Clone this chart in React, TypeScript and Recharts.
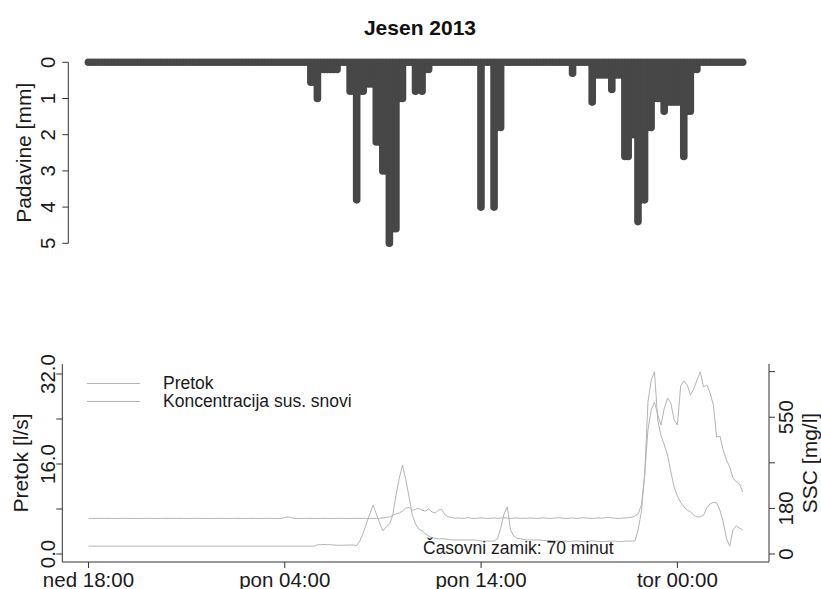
import React from "react";
import { Bar, ComposedChart, Legend, Line, XAxis, YAxis } from "recharts";

const FONT = '"Liberation Sans", Arial, sans-serif';
const STEP_MIN = 10; // one reading every 10 minutes, starting ned 18:00

// precipitation per 10 min [mm]
const rain = [
  0, 0, 0, 0, 0, 0, 0, 0, 0, 0, 0, 0, 0, 0, 0, 0, 0, 0, 0, 0,
  0, 0, 0, 0, 0, 0, 0, 0, 0, 0, 0, 0, 0, 0, 0, 0, 0, 0, 0, 0,
  0, 0, 0, 0, 0, 0, 0, 0, 0, 0, 0, 0, 0, 0, 0, 0, 0, 0, 0, 0,
  0, 0, 0, 0, 0, 0, 0, 0, 0.55, 0.55, 1.0, 0.2, 0.2, 0.2, 0.2, 0.2, 0.2, 0, 0, 0,
  0.8, 0.8, 3.8, 0.8, 0.8, 0.6, 0.6, 0.6, 2.2, 2.2, 3.0, 3.0, 5.0, 4.6, 4.6, 1.0, 1.0, 0, 0, 0,
  0.8, 0.7, 0.8, 0.2, 0.2, 0, 0, 0, 0, 0, 0, 0, 0, 0, 0, 0, 0, 0, 0, 0,
  4.0, 0, 0, 0, 4.0, 1.8, 1.8, 0, 0, 0, 0, 0, 0, 0, 0, 0, 0, 0, 0, 0,
  0, 0, 0, 0, 0, 0, 0, 0, 0.3, 0, 0, 0, 0, 0, 1.1, 0.35, 0.35, 0.35, 0.35, 0.35,
  0.75, 0.35, 0.35, 0.35, 2.6, 2.6, 2.0, 2.0, 4.4, 3.8, 3.8, 1.8, 1.8, 1.0, 1.0, 1.0, 1.35, 1.1, 1.1, 1.1,
  1.1, 1.1, 2.6, 1.35, 1.35, 0.2, 0.2, 0, 0, 0, 0, 0, 0, 0, 0, 0, 0, 0, 0, 0,
  0,
];

// discharge [l/s]
const flow = [
  1.4, 1.4, 1.4, 1.4, 1.4, 1.4, 1.4, 1.4, 1.4, 1.4, 1.4, 1.4, 1.4, 1.4, 1.4, 1.4, 1.4, 1.4, 1.4, 1.4,
  1.4, 1.4, 1.4, 1.4, 1.4, 1.4, 1.4, 1.4, 1.4, 1.4, 1.4, 1.4, 1.4, 1.4, 1.4, 1.4, 1.4, 1.4, 1.4, 1.4,
  1.4, 1.4, 1.4, 1.4, 1.4, 1.4, 1.4, 1.4, 1.4, 1.4, 1.4, 1.4, 1.4, 1.4, 1.4, 1.4, 1.4, 1.4, 1.4, 1.4,
  1.4, 1.4, 1.4, 1.4, 1.4, 1.4, 1.4, 1.4, 1.4, 1.4, 1.65, 1.65, 1.7, 1.65, 1.65, 1.6, 1.55, 1.55, 1.55, 1.6,
  1.6, 1.6, 1.5, 2.4, 3.8, 5.5, 7.1, 8.7, 7.1, 5.5, 4.1, 4.8, 5.3, 6.9, 10.5, 13.5, 15.8, 13.2, 10.1, 6.9,
  5.3, 4.4, 4.1, 3.6, 3.2, 2.9, 2.8, 2.7, 2.7, 2.7, 2.6, 2.5, 2.5, 2.5, 2.5, 2.5, 2.5, 2.5, 2.5, 2.4,
  2.3, 2.3, 2.3, 2.3, 2.3, 2.7, 4.6, 7.1, 8.4, 4.3, 3.2, 2.8, 2.7, 2.6, 2.5, 2.5, 2.5, 2.5, 2.5, 2.4,
  2.4, 2.4, 2.3, 2.3, 2.3, 2.3, 2.3, 2.2, 2.3, 2.3, 2.3, 2.2, 2.2, 2.3, 2.3, 2.3, 2.2, 2.2, 2.2, 2.3,
  2.3, 2.3, 2.2, 2.2, 2.3, 2.3, 2.3, 2.3, 4.3, 7.5, 14.0, 27.0, 30.9, 32.4, 23.8, 21.0, 19.4, 17.6, 14.6, 11.9,
  10.3, 9.2, 8.4, 7.8, 7.5, 6.9, 6.6, 6.6, 6.9, 8.2, 8.9, 9.2, 9.1, 7.8, 5.7, 2.8, 1.4, 4.3, 5.0, 4.6,
  4.3,
];

// suspended sediment concentration [mg/l]
const ssc = [
  143, 143, 143, 143, 143, 143, 143, 143, 143, 143, 143, 143, 143, 143, 143, 143, 143, 143, 143, 143,
  143, 143, 143, 143, 143, 143, 143, 143, 143, 143, 143, 143, 143, 143, 143, 143, 143, 143, 143, 143,
  143, 143, 143, 143, 143, 143, 143, 143, 143, 143, 143, 143, 143, 143, 143, 143, 143, 143, 143, 143,
  147, 149, 146, 143, 143, 143, 143, 143, 143, 143, 143, 143, 143, 143, 143, 143, 143, 143, 143, 143,
  143, 143, 143, 143, 143, 143, 143, 143, 143, 143, 145, 147, 149, 155, 161, 165, 173, 185, 187, 175,
  181, 183, 175, 173, 181, 169, 165, 177, 179, 157, 149, 147, 144, 145, 143, 144, 146, 144, 143, 144,
  145, 144, 143, 144, 145, 143, 144, 146, 144, 143, 144, 145, 143, 144, 143, 145, 144, 143, 144, 145,
  144, 143, 144, 145, 146, 144, 143, 144, 145, 143, 144, 146, 145, 144, 143, 144, 145, 144, 146, 147,
  145, 144, 143, 144, 145, 146, 148, 153, 161, 197, 318, 499, 579, 611, 559, 519, 587, 627, 607, 539,
  519, 675, 696, 680, 639, 663, 700, 732, 671, 680, 647, 599, 470, 474, 418, 378, 350, 306, 290, 281,
  249,
];

const timeTicks = [0, 600, 1200, 1800];
const timeLabels = ["ned 18:00", "pon 04:00", "pon 14:00", "tor 00:00"];
const rainTicks = [0, 1, 2, 3, 4, 5];
const flowTicks = [0, 8, 16, 24, 32];
const flowTickLabels = ["0.0", "", "16.0", "", "32.0"];
const sscTicks = [0, 183.3, 366.7, 550, 733.3];
const sscTickLabels = ["0", "180", "", "550", ""];
const legendOrder = ["Pretok", "Koncentracija sus. snovi"];

const rainData = rain.map((mm, i) => ({ t: i * STEP_MIN, mm }));
const flowData = flow.map((q, i) => ({ t: i * STEP_MIN, q, ssc: ssc[i] }));

const INK = "#333";
const BAR = "#474747";
const LINE = "#b4b4b4";

function RainStick(props: any) {
  const { x, y, width, height } = props;
  if (x == null || y == null) return null;
  const cx = x + width / 2;
  const y2 = y + (height || 0);
  return (
    <path
      d={`M${cx},${y} L${cx},${y2}`}
      stroke={BAR}
      strokeWidth={7.6}
      strokeLinecap="round"
      fill="none"
    />
  );
}

// rotated (bottom-to-top) tick label, R style
function RotTick(props: any) {
  const { x, y, index, labels, dx, size } = props;
  const label = labels ? labels[index] : String(props.payload.value);
  const cx = x + dx;
  return (
    <text
      x={cx}
      y={y}
      transform={`rotate(-90 ${cx} ${y})`}
      textAnchor="middle"
      dominantBaseline="central"
      fontSize={size}
      fontFamily={FONT}
      fill="#1a1a1a"
    >
      {label}
    </text>
  );
}

function TimeTick(props: any) {
  const { x, y, index } = props;
  return (
    <text x={x} y={y + 16.5} textAnchor="middle" fontSize={20.5} fontFamily={FONT} fill="#1a1a1a">
      {timeLabels[index]}
    </text>
  );
}

function AxisTitle(props: any) {
  const { viewBox, text, cxOffset, size } = props;
  const cx = viewBox.x + cxOffset;
  const cy = viewBox.y + viewBox.height / 2;
  return (
    <text
      x={cx}
      y={cy}
      transform={`rotate(-90 ${cx} ${cy})`}
      textAnchor="middle"
      dominantBaseline="central"
      fontSize={size}
      fontFamily={FONT}
      fill="#1a1a1a"
    >
      {text}
    </text>
  );
}

function FlowLegend(props: any) {
  const items = [...(props.payload || [])].sort(
    (a: any, b: any) => legendOrder.indexOf(a.value) - legendOrder.indexOf(b.value)
  );
  return (
    <div style={{ fontFamily: FONT, fontSize: 17.5, color: "#1a1a1a", lineHeight: "18.4px" }}>
      {items.map((it: any) => (
        <div key={it.value} style={{ display: "flex", alignItems: "center" }}>
          <span style={{ display: "inline-block", width: 53, borderTop: `1px solid ${LINE}`, marginRight: 23 }} />
          <span>{it.value}</span>
        </div>
      ))}
    </div>
  );
}

export default function App() {
  return (
    <div style={{ position: "relative", width: 821, height: 589, background: "#fff", fontFamily: FONT }}>
      <style>{"body{margin:0}"}</style>
      <svg width={821} height={60} style={{ position: "absolute", left: 0, top: 0 }}>
        <text x={420} y={35} textAnchor="middle" fontSize={21} fontWeight="bold" fontFamily={FONT} fill="#111">
          Jesen 2013
        </text>
      </svg>

      <div style={{ position: "absolute", left: 0, top: 0 }}>
        <ComposedChart
          width={821}
          height={262}
          data={rainData}
          margin={{ top: 62.3, right: 52, bottom: 18.7, left: 28.3 }}
        >
          <XAxis dataKey="t" type="number" domain={[-62, 2080]} allowDataOverflow hide />
          <YAxis
            type="number"
            domain={[0, 5]}
            reversed
            ticks={rainTicks}
            interval={0}
            width={40}
            tickSize={6}
            axisLine={{ stroke: INK }}
            tickLine={{ stroke: INK }}
            tick={<RotTick dx={-13} size={20.5} />}
            label={<AxisTitle text="Padavine [mm]" cxOffset={-5} size={21} />}
          />
          <Bar dataKey="mm" barSize={8} shape={<RainStick />} isAnimationActive={false} />
        </ComposedChart>
      </div>

      <div style={{ position: "absolute", left: 0, top: 340 }}>
        <ComposedChart width={821} height={249} data={flowData} margin={{ top: 24, right: 0, bottom: 0, left: 0 }}>
          <XAxis
            dataKey="t"
            type="number"
            domain={[-80, 2080]}
            allowDataOverflow
            ticks={timeTicks}
            interval={0}
            height={27}
            tickSize={6}
            axisLine={{ stroke: INK }}
            tickLine={{ stroke: INK }}
            tick={<TimeTick />}
          />
          <XAxis
            xAxisId="top"
            orientation="top"
            dataKey="t"
            type="number"
            domain={[-80, 2080]}
            allowDataOverflow
            height={0}
            tick={false}
            tickLine={false}
            axisLine={{ stroke: INK }}
          />
          <YAxis
            yAxisId="left"
            type="number"
            domain={[-1.42, 33.78]}
            allowDataOverflow
            ticks={flowTicks}
            interval={0}
            width={62.3}
            tickSize={6}
            axisLine={{ stroke: INK }}
            tickLine={{ stroke: INK }}
            tick={<RotTick labels={flowTickLabels} dx={-7} size={20.5} />}
            label={<AxisTitle text="Pretok [l/s]" cxOffset={20} size={21} />}
          />
          <YAxis
            yAxisId="right"
            orientation="right"
            type="number"
            domain={[-32.2, 764]}
            allowDataOverflow
            ticks={sscTicks}
            interval={0}
            width={52}
            tickSize={6}
            axisLine={{ stroke: INK }}
            tickLine={{ stroke: INK }}
            tick={<RotTick labels={sscTickLabels} dx={9} size={20.5} />}
            label={<AxisTitle text="SSC [mg/l]" cxOffset={40} size={21} />}
          />
          <Legend
            layout="horizontal"
            verticalAlign="middle"
            align="center"
            content={<FlowLegend />}
            wrapperStyle={{ top: 34, left: 87, width: 300, height: 40 }}
          />
          <Line yAxisId="left" name="Pretok" dataKey="q" type="linear" stroke={LINE} strokeWidth={1} dot={false} isAnimationActive={false} />
          <Line yAxisId="right" name="Koncentracija sus. snovi" dataKey="ssc" type="linear" stroke={LINE} strokeWidth={1} dot={false} isAnimationActive={false} />
        </ComposedChart>
      </div>

      <svg width={821} height={589} style={{ position: "absolute", left: 0, top: 0, pointerEvents: "none" }}>
        <text x={423} y={554} fontSize={17.5} fontFamily={FONT} fill="#1a1a1a">
          Časovni zamik: 70 minut
        </text>
      </svg>
    </div>
  );
}
